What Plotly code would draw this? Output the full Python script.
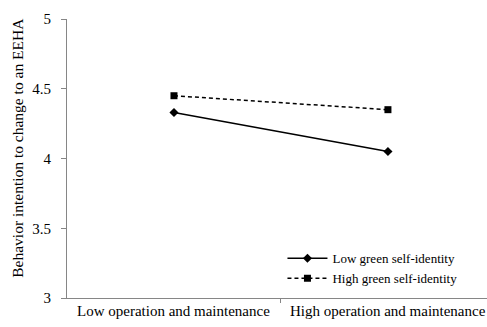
import plotly.graph_objects as go

categories = ["Low operation and maintenance", "High operation and maintenance"]
low_identity = [4.33, 4.05]
high_identity = [4.45, 4.35]
y_ticks = [3, 3.5, 4, 4.5, 5]
y_tick_text = ["3", "3.5", "4", "4.5", "5"]
y_title = "Behavior intention to change to an EEHA"

font_family = "Liberation Serif"

fig = go.Figure()
fig.add_trace(go.Scatter(
    x=[0, 1], y=low_identity, mode="lines+markers",
    name="Low green self-identity",
    line=dict(color="black", width=1.5),
    marker=dict(symbol="diamond", size=7, color="black"),
))
fig.add_trace(go.Scatter(
    x=[0, 1], y=high_identity, mode="lines+markers",
    name="High green self-identity",
    line=dict(color="black", width=1.5, dash="4px,3px"),
    marker=dict(symbol="square", size=7, color="black"),
))

# category labels centred at 0 and 1, ticks on category boundaries
for i, label in enumerate(categories):
    fig.add_annotation(x=i, y=0, xref="x", yref="paper", yanchor="top",
                       text=label, showarrow=False, yshift=-3,
                       font=dict(family=font_family, size=15, color="black"))

# vertical axis title
fig.add_annotation(x=-0.117, y=0.538, xref="paper", yref="paper",
                   xanchor="center", yanchor="middle", textangle=-90,
                   text=y_title, showarrow=False,
                   font=dict(family=font_family, size=15.5, color="black"))

fig.update_layout(
    width=487, height=327,
    margin=dict(l=67, r=0, t=19, b=29),
    paper_bgcolor="white", plot_bgcolor="white",
    font=dict(family=font_family, size=15, color="black"),
    showlegend=True,
    legend=dict(x=0.513, y=0.196, xanchor="left", yanchor="top",
                font=dict(family=font_family, size=13, color="black"),
                bgcolor="rgba(0,0,0,0)", itemwidth=40, tracegroupgap=3),
    xaxis=dict(range=[-0.5, 1.463], showgrid=False, zeroline=False,
               tickvals=[0.5], ticktext=[""], ticks="outside", ticklen=4,
               tickcolor="#868686", showline=True, linecolor="#868686",
               linewidth=1),
    yaxis=dict(range=[3, 5], tickvals=y_ticks, ticktext=y_tick_text,
               showgrid=False, zeroline=False, ticks="outside", ticklen=5,
               tickcolor="#868686", showline=True, linecolor="#868686",
               linewidth=1, ticklabelstandoff=7,
               tickfont=dict(family=font_family, size=15)),
)

fig.write_html("out.html")
